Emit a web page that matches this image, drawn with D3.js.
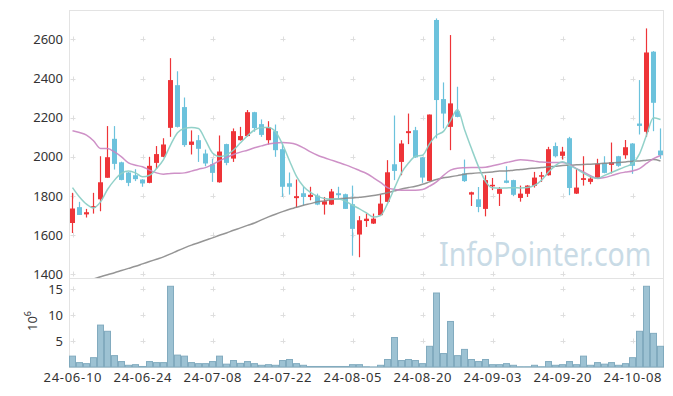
<!DOCTYPE html>
<html>
<head>
<meta charset="utf-8">
<script src="https://cdn.jsdelivr.net/npm/d3@7"></script>
<style>
body { margin: 0; background: #fff; }
svg { display: block; font-family: "Noto Sans", sans-serif; }
</style>
</head>
<body>
<div id="chart"></div>
<script>
// trading days (categories)
var dates = ["24-06-10","24-06-11","24-06-12","24-06-13","24-06-14","24-06-17","24-06-18","24-06-19","24-06-20","24-06-21",
  "24-06-24","24-06-25","24-06-26","24-06-27","24-06-28","24-07-01","24-07-02","24-07-03","24-07-04","24-07-05",
  "24-07-08","24-07-09","24-07-10","24-07-11","24-07-12","24-07-15","24-07-16","24-07-17","24-07-18","24-07-19",
  "24-07-22","24-07-23","24-07-24","24-07-25","24-07-26","24-07-29","24-07-30","24-07-31","24-08-01","24-08-02",
  "24-08-05","24-08-06","24-08-07","24-08-08","24-08-09","24-08-12","24-08-13","24-08-14","24-08-16","24-08-19",
  "24-08-20","24-08-21","24-08-22","24-08-23","24-08-26","24-08-27","24-08-28","24-08-29","24-08-30","24-09-02",
  "24-09-03","24-09-04","24-09-05","24-09-06","24-09-09","24-09-10","24-09-11","24-09-12","24-09-13","24-09-19",
  "24-09-20","24-09-23","24-09-24","24-09-25","24-09-26","24-09-27","24-09-30","24-10-02","24-10-04","24-10-07",
  "24-10-08","24-10-10","24-10-11","24-10-14","24-10-15"];

var open  = [1662,1743,1706,1740,1783,1893,2092,1972,1920,1906, 1884,1867,1969,2000,2148,2366,2254,2061,2085,2017,
             1962,1870,2065,1991,2085,2106,2228,2167,2085,2131, 2039,1865,1789,1814,1795,1802,1756,1756,1814,1809,
             1758,1603,1672,1659,1702,1770,1962,1974,2121,2136, 1997,1877,2699,2295,2153,2233,1915,1807,1783,1734,
             1852,1811,1879,1881,1790,1811,1852,1899,1906,2055, 2005,2095,1812,1882,1872,1889,1969,1959,2003,2008,
             2068,2170,2128,2537,2032];
var high  = [1816,1770,1734,1816,2003,2157,2157,1975,1922,1937, 1886,2000,2055,2095,2504,2437,2303,2135,2111,2037,
             1991,2109,2067,2145,2153,2239,2230,2191,2182,2165, 2068,1920,1884,1847,1847,1812,1795,1836,1847,1812,
             1853,1697,1710,1710,1807,1983,2211,2085,2221,2153, 2000,2216,2707,2380,2622,2358,1986,1822,1846,1906,
             1892,1846,1952,1883,1853,1855,1923,1923,2051,2073, 2051,2102,1940,2003,1903,1990,2003,2073,2005,2086,
             2070,2392,2656,2540,2145];
var low   = [1611,1703,1690,1710,1722,1893,1935,1880,1850,1876, 1847,1865,1940,1998,2102,2150,2051,2012,1974,1952,
             1872,1868,1957,1974,2083,2104,2128,2102,2063,2000, 1795,1807,1741,1753,1778,1753,1705,1754,1785,1734,
             1495,1487,1642,1657,1700,1768,1881,1906,2065,1995, 1867,1875,2094,2145,2034,2202,1872,1749,1717,1696,
             1830,1749,1865,1799,1771,1795,1843,1872,1904,1997, 1986,1804,1810,1853,1860,1887,1916,1915,1949,1990,
             1913,2114,2102,2131,1990];
var close = [1736,1703,1717,1748,1870,1998,1964,1882,1867,1886, 1864,1954,2014,2063,2392,2153,2060,2078,2041,1966,
             1918,2027,1969,2131,2106,2228,2147,2112,2150,2034, 1847,1847,1799,1795,1806,1756,1773,1823,1804,1734,
             1632,1676,1684,1684,1761,1921,1928,2068,2131,1997, 1894,2216,2290,2221,2273,2204,1876,1819,1744,1881,
             1857,1835,1867,1806,1812,1853,1894,1906,2039,2003, 2027,1841,1843,1891,1889,1964,1918,1972,1954,2049,
             1954,2158,2533,2276,2008];

// volume, millions of shares
var volume = [2.1,0.85,0.65,1.8,8.1,6.9,2.2,1.05,0.33,0.45, 0.1,1.05,0.85,0.85,15.6,2.3,2.1,0.85,0.65,0.65,
              1.05,2.1,0.55,1.25,0.7,1.05,0.65,0.33,0.45,0.33, 1.25,1.45,0.65,0.33,0.1,0.1,0.1,0.1,0.1,0.1,
              0.45,0.45,0.05,0.02,0.33,1.45,5.7,1.25,1.45,1.25, 0.65,4.0,14.3,2.6,8.8,2.2,3.4,1.45,1.05,1.45,
              0.45,0.45,0.65,0.33,0.05,0.05,0.33,0.05,1.05,0.33, 0.45,1.05,0.45,2.1,0.33,0.85,0.55,0.85,0.33,0.65,
              1.8,6.9,15.6,6.5,4.0];

// moving averages
var ma5  = [1843,1795,1758,1739,1770,1833,1881,1915,1927,1918, 1898,1906,1940,1986,2060,2123,2145,2150,2145,2085,
            2020,2002,2010,2035,2072,2108,2137,2150,2150,2128, 2064,1980,1900,1848,1818,1798,1787,1784,1784,1774,
            1753,1734,1713,1692,1700,1761,1840,1918,1968,2003, 2008,2066,2110,2130,2185,2242,2140,2042,1950,1875,
            1842,1840,1841,1842,1841,1843,1854,1880,1922,1955, 1975,1957,1938,1917,1898,1890,1905,1920,1935,1950,
            1965,2015,2110,2199,2191];
var ma20 = [2133,2124,2111,2082,2043,2042,2025,2000,1969,1957, 1949,1932,1918,1911,1915,1916,1918,1927,1937,1945,
            1961,1980,1996,2012,2024,2034,2046,2056,2066,2071, 2073,2071,2063,2046,2025,2008,1995,1983,1971,1959,
            1945,1930,1915,1893,1869,1843,1833,1829,1829,1829, 1833,1850,1872,1905,1932,1942,1944,1945,1945,1947,
            1954,1962,1971,1979,1985,1983,1978,1973,1971,1971, 1971,1961,1940,1923,1904,1889,1894,1904,1915,1922,
            1928,1940,1966,1991,2007];
var ma60 = [1344,1355,1366,1376,1387,1398,1408,1419,1430,1441, 1453,1465,1477,1489,1504,1520,1535,1549,1561,1574,
            1586,1599,1611,1625,1637,1650,1662,1678,1693,1707, 1720,1732,1742,1753,1761,1770,1775,1782,1785,1789,
            1790,1794,1797,1802,1809,1816,1826,1836,1843,1850, 1860,1872,1884,1893,1898,1904,1911,1915,1918,1920,
            1923,1927,1928,1932,1935,1939,1942,1945,1949,1952, 1956,1957,1959,1961,1962,1964,1967,1969,1971,1974,
            1978,1979,1983,1986,1979];

var priceTicks  = [1400,1600,1800,2000,2200,2400,2600];
var volumeTicks = [5,10,15];
var dateTicks   = ["24-06-10","24-06-24","24-07-08","24-07-22","24-08-05","24-08-20","24-09-03","24-09-20","24-10-08"];

var W = 673, H = 396;
var padL = 69, padR = 664, yTop = 10, yMid = 278, yBot = 367;

var svg = d3.select('#chart').append('svg')
    .attr('width', W)
    .attr('height', H);

var x = d3.scaleBand().domain(dates).range([padL, padR]).padding(0);
var y = d3.scaleLinear().domain([1381, 2750]).range([yMid, yTop]);
var yv = d3.scaleLinear().domain([0, 17.2]).range([yBot, yMid]);
var cx = function(i) { return x(dates[i]) + x.bandwidth() / 2; };

svg.append('clipPath').attr('id', 'clipPrice')
  .append('rect').attr('x', padL).attr('y', yTop).attr('width', padR - padL).attr('height', yMid - yTop);

// frame
var frame = svg.append('g').attr('stroke', '#e3e3e3').attr('fill', 'none');
frame.append('rect').attr('x', padL + 0.5).attr('y', yTop + 0.5).attr('width', padR - padL - 1).attr('height', yMid - yTop);
frame.append('line').attr('x1', padL + 0.5).attr('x2', padL + 0.5).attr('y1', yMid).attr('y2', yBot);
frame.append('line').attr('x1', padR - 0.5).attr('x2', padR - 0.5).attr('y1', yMid).attr('y2', yBot);
frame.append('line').attr('x1', padL).attr('x2', padR).attr('y1', yBot + 0.5).attr('y2', yBot + 0.5);

// "+" grid marks
var grid = svg.append('g').attr('stroke', '#dedede').attr('stroke-width', 1);
var crossAt = function(px, py) {
  grid.append('line').attr('x1', px - 2.5).attr('x2', px + 2.5).attr('y1', py + 0.5).attr('y2', py + 0.5);
  grid.append('line').attr('x1', px + 0.5).attr('x2', px + 0.5).attr('y1', py - 2.5).attr('y2', py + 2.5);
};
dateTicks.forEach(function(d) {
  var px = Math.round(x(d) + x.bandwidth() / 2);
  priceTicks.forEach(function(p) { crossAt(px, Math.round(y(p))); });
  volumeTicks.forEach(function(v) { crossAt(px, Math.round(yv(v))); });
});

// watermark
svg.append('text')
  .attr('transform', 'translate(439,266) scale(1,1.18)')
  .attr('font-size', 28.5)
  .attr('fill', '#c9dbe6')
  .text('InfoPointer.com');

// volume bars
svg.append('g').selectAll('rect')
  .data(volume).enter()
  .append('rect')
  .attr('x', function(d, i) { return x(dates[i]) + 0.5; })
  .attr('width', x.bandwidth() - 1)
  .attr('y', function(d) { return yv(d); })
  .attr('height', function(d) { return yBot - yv(d); })
  .attr('fill', '#93bccf')
  .attr('stroke', '#75a3b9')
  .attr('stroke-width', 1)
  .attr('opacity', 0.9);

// candles
var up = '#ee3438', down = '#6cc2dc';
var candles = svg.append('g').attr('clip-path', 'url(#clipPrice)')
  .selectAll('g').data(dates).enter().append('g');
candles.append('line')
  .attr('x1', function(d, i) { return Math.round(cx(i)) - 0.5; })
  .attr('x2', function(d, i) { return Math.round(cx(i)) - 0.5; })
  .attr('y1', function(d, i) { return y(high[i]); })
  .attr('y2', function(d, i) { return y(low[i]); })
  .attr('stroke', function(d, i) { return close[i] >= open[i] ? up : down; })
  .attr('stroke-width', 1.2);
candles.append('rect')
  .attr('x', function(d, i) { return Math.round(cx(i)) - 3; })
  .attr('width', 5)
  .attr('y', function(d, i) { return y(Math.max(open[i], close[i])); })
  .attr('height', function(d, i) { return Math.max(1.5, Math.abs(y(open[i]) - y(close[i]))); })
  .attr('fill', function(d, i) { return close[i] >= open[i] ? up : down; });

// moving average lines
var lineOf = function(vals) {
  return d3.line()
    .x(function(d, i) { return cx(i); })
    .y(function(d) { return y(d); })
    .curve(d3.curveMonotoneX)(vals);
};
var maG = svg.append('g').attr('clip-path', 'url(#clipPrice)').attr('fill', 'none');
maG.append('path').attr('d', lineOf(ma60)).attr('stroke', '#8a8a8a').attr('stroke-width', 1.5).attr('opacity', 0.9);
maG.append('path').attr('d', lineOf(ma20)).attr('stroke', '#c985c1').attr('stroke-width', 1.5).attr('opacity', 0.9);
maG.append('path').attr('d', lineOf(ma5)).attr('stroke', '#8ccfc6').attr('stroke-width', 1.5).attr('opacity', 0.95);

// axes
var styleAxis = function(g) {
  g.select('.domain').remove();
  g.selectAll('text').attr('fill', '#333').attr('font-size', 13).attr('font-family', '"Noto Sans", sans-serif');
};
svg.append('g').attr('transform', 'translate(' + padL + ',0)')
  .call(d3.axisLeft(y).tickValues(priceTicks).tickFormat(d3.format('d')).tickSize(0).tickPadding(6))
  .call(styleAxis);
svg.append('g').attr('transform', 'translate(' + padL + ',0)')
  .call(d3.axisLeft(yv).tickValues(volumeTicks).tickSize(0).tickPadding(6))
  .call(styleAxis);
svg.append('g').attr('transform', 'translate(0,' + yBot + ')')
  .call(d3.axisBottom(x).tickValues(dateTicks).tickSize(0).tickPadding(6))
  .call(styleAxis)
  .selectAll('text').attr('textLength', 58).attr('lengthAdjust', 'spacing');

// unit label
var unit = svg.append('text')
  .attr('transform', 'translate(37,321) rotate(-90)')
  .attr('text-anchor', 'middle')
  .attr('fill', '#333')
  .attr('font-size', 13);
unit.append('tspan').text('10');
unit.append('tspan').attr('font-size', 9).attr('dy', -6).text('6');
</script>
</body>
</html>
